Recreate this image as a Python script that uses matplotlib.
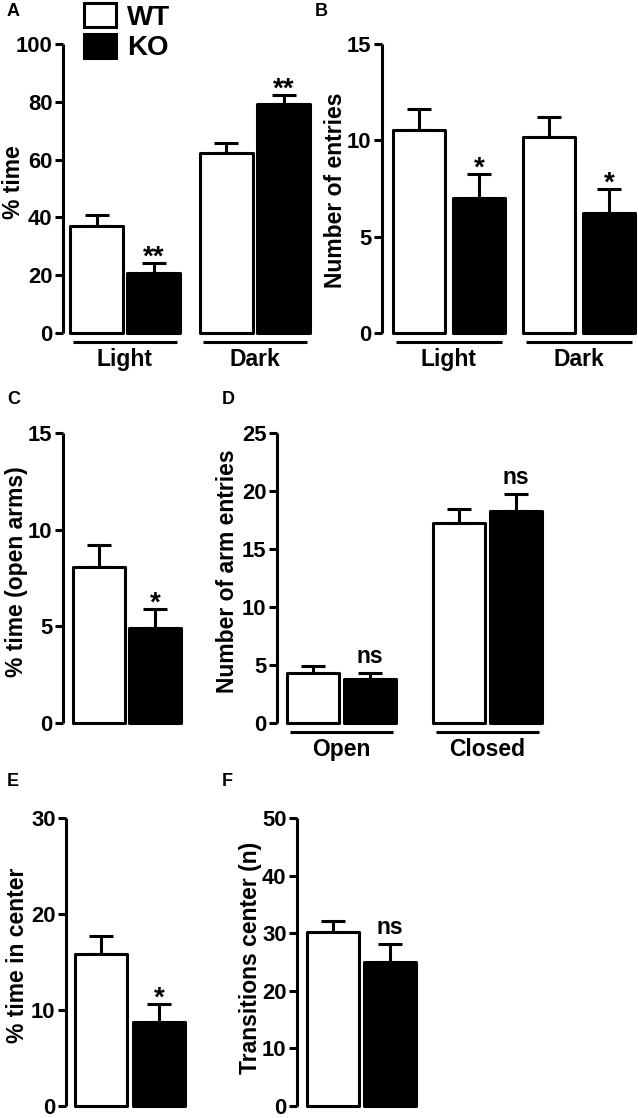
import matplotlib
matplotlib.use("Agg")
import matplotlib.pyplot as plt
import matplotlib.transforms as mtransforms
import numpy as np

plt.rcParams['font.family'] = ['Liberation Sans', 'DejaVu Sans']
plt.rcParams['font.weight'] = 'bold'

# ---------------- data ----------------
A_groups = ['Light', 'Dark']
A_wt = [37.0, 62.3]
A_wt_err = [4.0, 3.5]
A_ko = [20.7, 79.2]
A_ko_err = [3.5, 3.2]
A_sig = ['**', '**']

B_groups = ['Light', 'Dark']
B_wt = [10.55, 10.15]
B_wt_err = [1.1, 1.05]
B_ko = [7.0, 6.25]
B_ko_err = [1.25, 1.25]
B_sig = ['*', '*']

C_wt = [8.07]
C_wt_err = [1.15]
C_ko = [4.91]
C_ko_err = [1.0]
C_sig = ['*']

D_groups = ['Open', 'Closed']
D_wt = [4.3, 17.25]
D_wt_err = [0.6, 1.2]
D_ko = [3.8, 18.3]
D_ko_err = [0.5, 1.45]
D_sig = ['ns', 'ns']

E_wt = [15.8]
E_wt_err = [1.9]
E_ko = [8.8]
E_ko_err = [1.85]
E_sig = ['*']

F_wt = [30.2]
F_wt_err = [1.9]
F_ko = [25.0]
F_ko_err = [3.1]
F_sig = ['ns']

series_labels = ['WT', 'KO']

# ---------------- layout ----------------
W, H = 638, 1118
DPI = 100
fig = plt.figure(figsize=(W / DPI, H / DPI), dpi=DPI)

LW = 2.2
TICK_FS = 15.8
LABEL_FS = 16.5
GROUP_FS = 16.5
SIG_FS = 16.5
STAR_FS = 20


def px(v):
    return v / DPI


def make_panel(spine_x, top_y, bottom_y, right_x, ymax, yticks,
               wt, wt_err, ko, ko_err, sig, groups,
               first_left, bar_w, step, group_step,
               ylabel, ylabel_xy, letter, letter_xy):
    ax = fig.add_axes([spine_x / W, 1 - bottom_y / H,
                       (right_x - spine_x) / W, (bottom_y - top_y) / H])
    ax.set_xlim(0, right_x - spine_x)
    ax.set_ylim(0, ymax)
    n = len(wt)
    wt_x = np.array([first_left + g * group_step + bar_w / 2 for g in range(n)])
    ko_x = wt_x + step
    b1 = ax.bar(wt_x, wt, bar_w, color='white', edgecolor='black',
                linewidth=LW, zorder=3)
    b2 = ax.bar(ko_x, ko, bar_w, color='black', edgecolor='black',
                linewidth=LW, zorder=3)
    for p in list(b1) + list(b2):
        p.set_joinstyle('round')
        p.set_clip_on(False)
    for xs, vals, errs in ((wt_x, wt, wt_err), (ko_x, ko, ko_err)):
        ax.errorbar(xs, vals, yerr=[np.zeros(n), errs], fmt='none',
                    ecolor='black', elinewidth=LW, capsize=8.3,
                    capthick=LW, zorder=2, clip_on=False)
    # significance labels
    for xs, vals, errs, s in zip(ko_x, ko, ko_err, sig):
        if s == 'ns':
            off, fs = 10, SIG_FS
        else:
            off, fs = -2, STAR_FS
        tr = ax.transData + mtransforms.ScaledTranslation(0, px(off), fig.dpi_scale_trans)
        ax.text(xs, vals + errs, s, transform=tr, ha='center', va='baseline',
                fontsize=fs, fontweight='bold')
    # group lines and labels
    if groups:
        tline = ax.get_xaxis_transform() + mtransforms.ScaledTranslation(0, -px(9), fig.dpi_scale_trans)
        tlab = ax.get_xaxis_transform() + mtransforms.ScaledTranslation(0, -px(15), fig.dpi_scale_trans)
        for g, name in enumerate(groups):
            x0 = wt_x[g] - bar_w / 2 + 3
            x1 = ko_x[g] + bar_w / 2 - 3
            ax.plot([x0, x1], [0, 0], color='black', lw=LW, transform=tline,
                    clip_on=False, solid_capstyle='butt')
            ax.text((x0 + x1) / 2, 0, name, transform=tlab, ha='center',
                    va='top', fontsize=GROUP_FS, fontweight='bold')
    # axes styling
    for s in ('top', 'right', 'bottom'):
        ax.spines[s].set_visible(False)
    ax.spines['left'].set_linewidth(LW)
    ax.spines['left'].set_capstyle('butt')
    ax.set_xticks([])
    ax.set_yticks(yticks)
    ax.set_yticklabels([str(t) for t in yticks])
    ax.tick_params(axis='y', direction='out', length=6, width=LW, pad=1.5,
                   labelsize=TICK_FS)
    for t in ax.get_yticklabels():
        t.set_fontweight('bold')
    ax.set_facecolor('none')
    fig.text(ylabel_xy[0] / W, 1 - ylabel_xy[1] / H, ylabel, rotation=90,
             ha='center', va='center', fontsize=LABEL_FS, fontweight='bold')
    fig.text(letter_xy[0] / W, 1 - letter_xy[1] / H, letter, ha='left',
             va='center', fontsize=13, fontweight='bold')
    return ax, b1, b2


axA, bw, bk = make_panel(63, 44, 333, 312, 100, [0, 20, 40, 60, 80, 100],
                         A_wt, A_wt_err, A_ko, A_ko_err, A_sig, A_groups,
                         7, 53, 57, 130, '% time', (14, 182), 'A', (7, 11))
make_panel(382, 44, 333, 636, 15, [0, 5, 10, 15],
           B_wt, B_wt_err, B_ko, B_ko_err, B_sig, B_groups,
           11, 52, 60, 130, 'Number of entries', (335, 190), 'B', (315, 11))
make_panel(63, 433, 723, 200, 15, [0, 5, 10, 15],
           C_wt, C_wt_err, C_ko, C_ko_err, C_sig, None,
           10, 52, 56, 0, '% time (open arms)', (17, 572), 'C', (7, 400))
make_panel(277, 433, 723, 550, 25, [0, 5, 10, 15, 20, 25],
           D_wt, D_wt_err, D_ko, D_ko_err, D_sig, D_groups,
           10, 52, 57, 146, 'Number of arm entries', (228, 571), 'D', (222, 400))
make_panel(66, 818, 1106, 200, 30, [0, 10, 20, 30],
           E_wt, E_wt_err, E_ko, E_ko_err, E_sig, None,
           9, 52, 58, 0, '% time in center', (18, 955), 'E', (7, 781))
make_panel(297, 818, 1106, 420, 50, [0, 10, 20, 30, 40, 50],
           F_wt, F_wt_err, F_ko, F_ko_err, F_sig, None,
           10, 52, 57, 0, 'Transitions center (n)', (250, 958), 'F', (222, 781))

leg = fig.legend([bw, bk], series_labels, loc='upper left',
                 bbox_to_anchor=(84 / W, 1 - 3 / H), frameon=False,
                 fontsize=20, handlelength=1.15, handleheight=0.95,
                 handletextpad=0.4, labelspacing=0.12, borderpad=0,
                 borderaxespad=0)
for t in leg.get_texts():
    t.set_fontweight('bold')

fig.savefig('out.png', dpi=DPI)
